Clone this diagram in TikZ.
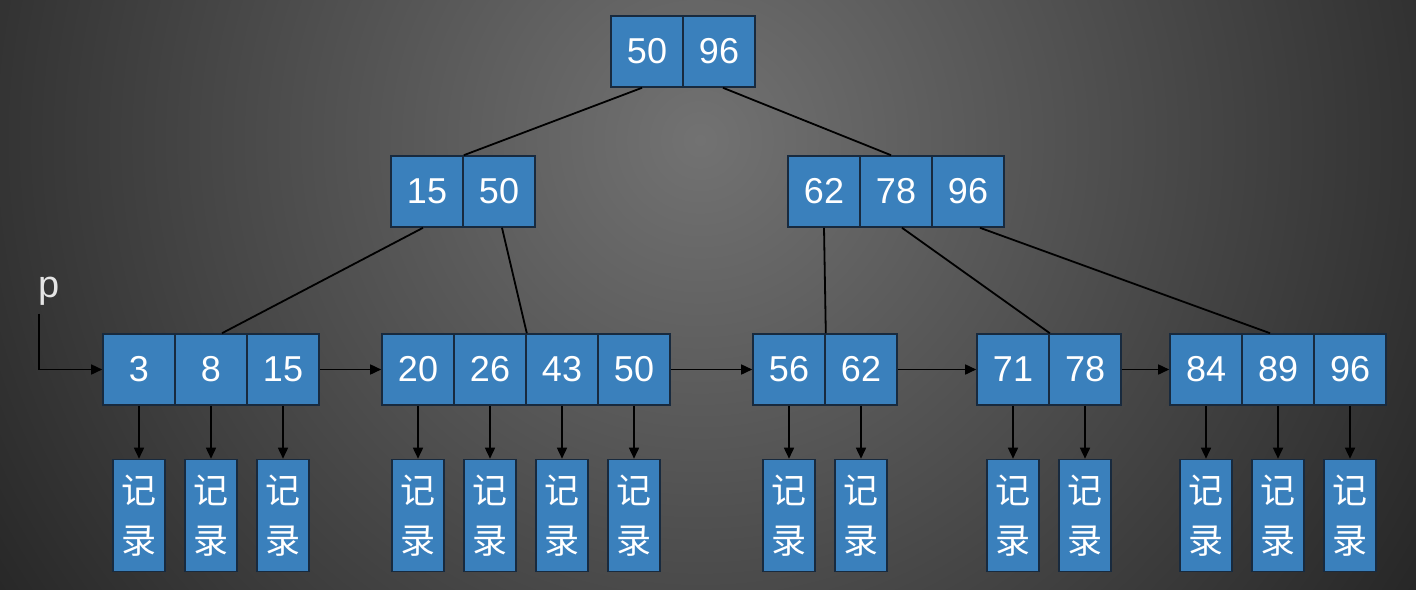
\documentclass[tikz,border=0pt]{standalone}
\usepackage{fontspec}
\setmainfont{Liberation Sans}
\newfontfamily\cjk{Noto Sans CJK SC}
\usetikzlibrary{arrows.meta}

\definecolor{cellblue}{RGB}{58,128,188}
\definecolor{cellline}{RGB}{24,42,62}
\definecolor{bglight}{RGB}{114,114,114}
\definecolor{bgdark}{RGB}{34,34,34}

\begin{document}
\begin{tikzpicture}[
    x=0.5pt, y=-0.5pt,
    cell/.style={draw=cellline, line width=0.8pt, fill=cellblue, text=white, inner sep=0pt,
      minimum width=36pt, minimum height=35.5pt, font=\fontsize{18}{20}\selectfont},
    rec/.style={draw=cellline, line width=0.8pt, fill=cellblue, text=white, inner sep=0pt, align=center,
      minimum width=26pt, minimum height=56pt, font=\cjk\fontsize{17.5}{25}\selectfont},
    edge/.style={line width=0.9pt, black},
    arr/.style={-{Triangle[length=5.5pt,width=5pt]}, line width=0.8pt, black}
    ]
    % background
    \useasboundingbox (0,0) rectangle (1416,589);
    \begin{scope}
      \clip (0,0) rectangle (1416,589);
      \shade[inner color=bglight, outer color=bgdark] (700,140) circle (900);
    \end{scope}

    % root
    \node[cell] (r50) at (647,51.5) {50};
    \node[cell] (r96) at (719,51.5) {96};
    % inner nodes
    \node[cell] (l15) at (427,191.5) {15};
    \node[cell] (l50) at (499,191.5) {50};
    \node[cell] (m62) at (824,191.5) {62};
    \node[cell] (m78) at (896,191.5) {78};
    \node[cell] (m96) at (968,191.5) {96};
    % leaves
    \node[cell] (a3) at (139,369.5) {3};
    \node[cell] (a8) at (211,369.5) {8};
    \node[cell] (a15) at (283,369.5) {15};
    \node[cell] (b20) at (418,369.5) {20};
    \node[cell] (b26) at (490,369.5) {26};
    \node[cell] (b43) at (562,369.5) {43};
    \node[cell] (b50) at (634,369.5) {50};
    \node[cell] (c56) at (789,369.5) {56};
    \node[cell] (c62) at (861,369.5) {62};
    \node[cell] (d71) at (1013,369.5) {71};
    \node[cell] (d78) at (1085,369.5) {78};
    \node[cell] (e84) at (1206,369.5) {84};
    \node[cell] (e89) at (1278,369.5) {89};
    \node[cell] (e96) at (1350,369.5) {96};
    \node[text=white!90!black, font=\fontsize{19}{20}\selectfont, inner sep=0pt] (p) at (49,291) {p};

    % tree edges
    \draw[edge] ([xshift=-2.5pt]r50.south) -- (l15.north east);
    \draw[edge] ([xshift=2pt]r96.south) -- ([xshift=-2.5pt]m78.north);
    \draw[edge] ([xshift=-2pt]l15.south) -- ([xshift=5.5pt]a8.north);
    \draw[edge] ([xshift=1.5pt]l50.south) -- (b26.north east);
    \draw[edge] (m62.south) -- (c56.north east);
    \draw[edge] ([xshift=3pt]m78.south) -- (d71.north east);
    \draw[edge] ([xshift=6pt]m96.south) -- ([xshift=-4pt]e89.north);

    % leaf chain
    \draw[arr] ([xshift=-5pt,yshift=-4pt]p.south) |- (a3.west);
    \draw[arr] (a15.east) -- (b20.west);
    \draw[arr] (b50.east) -- (c56.west);
    \draw[arr] (c62.east) -- (d71.west);
    \draw[arr] (d78.east) -- (e84.west);

    % records
    \node[rec] (ra3) at (139,515.5) {记\\录};   \draw[arr] (a3) -- (ra3);
    \node[rec] (ra8) at (211,515.5) {记\\录};   \draw[arr] (a8) -- (ra8);
    \node[rec] (ra15) at (283,515.5) {记\\录};  \draw[arr] (a15) -- (ra15);
    \node[rec] (rb20) at (418,515.5) {记\\录};  \draw[arr] (b20) -- (rb20);
    \node[rec] (rb26) at (490,515.5) {记\\录};  \draw[arr] (b26) -- (rb26);
    \node[rec] (rb43) at (562,515.5) {记\\录};  \draw[arr] (b43) -- (rb43);
    \node[rec] (rb50) at (634,515.5) {记\\录};  \draw[arr] (b50) -- (rb50);
    \node[rec] (rc56) at (789,515.5) {记\\录};  \draw[arr] (c56) -- (rc56);
    \node[rec] (rc62) at (861,515.5) {记\\录};  \draw[arr] (c62) -- (rc62);
    \node[rec] (rd71) at (1013,515.5) {记\\录}; \draw[arr] (d71) -- (rd71);
    \node[rec] (rd78) at (1085,515.5) {记\\录}; \draw[arr] (d78) -- (rd78);
    \node[rec] (re84) at (1206,515.5) {记\\录}; \draw[arr] (e84) -- (re84);
    \node[rec] (re89) at (1278,515.5) {记\\录}; \draw[arr] (e89) -- (re89);
    \node[rec] (re96) at (1350,515.5) {记\\录}; \draw[arr] (e96) -- (re96);
  \end{tikzpicture}
\end{document}
